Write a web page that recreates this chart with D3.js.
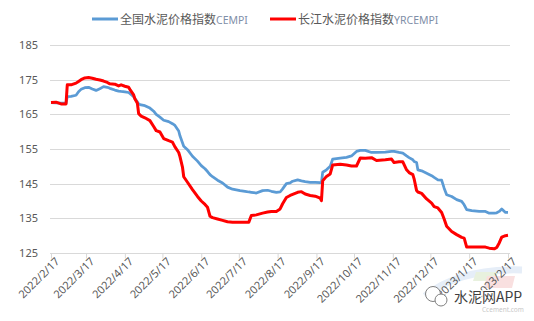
<!DOCTYPE html>
<html>
<head>
<meta charset="utf-8">
<script src="https://cdn.jsdelivr.net/npm/d3@7"></script>
<style>
  body { margin: 0; background: #fff; }
  svg { display: block; }
</style>
</head>
<body>
<div id="viz"></div>
<script>
const width = 534;
const height = 321;
const margin = {top: 45, right: 24, bottom: 68, left: 51};
const blue = '#5B9BD5';
const red = '#FF0000';

// dates of the readings
const dates = [
  '2022/2/17','2022/2/21','2022/2/25','2022/3/1','2022/3/2','2022/3/5','2022/3/9','2022/3/11','2022/3/13','2022/3/16',
  '2022/3/19','2022/3/22','2022/3/25','2022/3/28','2022/3/31','2022/4/3','2022/4/5','2022/4/9','2022/4/12','2022/4/14',
  '2022/4/17','2022/4/20','2022/4/21','2022/4/24','2022/4/25','2022/4/27','2022/4/28','2022/4/30','2022/5/3','2022/5/7',
  '2022/5/10','2022/5/12','2022/5/15','2022/5/18','2022/5/22','2022/5/25','2022/5/27','2022/5/30','2022/5/31','2022/6/2',
  '2022/6/3','2022/6/6','2022/6/10','2022/6/14','2022/6/17','2022/6/20','2022/6/22','2022/6/24','2022/6/26','2022/6/30',
  '2022/7/4','2022/7/8','2022/7/12','2022/7/18','2022/7/22','2022/7/25','2022/7/27','2022/7/31','2022/8/5','2022/8/9',
  '2022/8/12','2022/8/16','2022/8/19','2022/8/21','2022/8/24','2022/8/27','2022/8/29','2022/9/2','2022/9/5','2022/9/8',
  '2022/9/12','2022/9/16','2022/9/20','2022/9/21','2022/9/22','2022/9/25','2022/9/28','2022/9/30','2022/10/6','2022/10/11',
  '2022/10/15','2022/10/19','2022/10/22','2022/10/26','2022/10/31','2022/11/4','2022/11/11','2022/11/16','2022/11/18','2022/11/22',
  '2022/11/25','2022/11/28','2022/11/30','2022/12/3','2022/12/4','2022/12/6','2022/12/7','2022/12/10','2022/12/14','2022/12/18',
  '2022/12/20','2022/12/23','2022/12/26','2022/12/28','2022/12/30','2023/1/3','2023/1/7','2023/1/11','2023/1/13','2023/1/15',
  '2023/1/19','2023/1/25','2023/1/30','2023/2/2','2023/2/6','2023/2/8','2023/2/10','2023/2/12','2023/2/15','2023/2/17'
];

// 全国水泥价格指数CEMPI
const cempi = [
  168.4,168.3,168.2,168.2,170.1,170.2,170.5,171.5,172.2,172.7,
  172.8,172.3,171.9,172.4,173.0,172.8,172.5,172.0,171.7,171.6,
  171.5,171.3,171.0,170.1,169.5,168.6,168.0,167.7,167.5,166.8,
  165.9,165.0,164.2,163.3,162.9,162.3,161.8,160.2,158.8,156.8,
  155.8,154.8,152.9,151.5,150.2,149.3,148.5,147.6,147.0,146.0,
  145.2,144.0,143.4,143.0,142.8,142.6,142.5,142.3,143.0,143.1,
  142.8,142.5,142.6,143.5,145.0,145.2,145.7,146.1,145.8,145.6,
  145.4,145.4,145.3,145.3,148.3,149.0,150.0,152.1,152.4,152.6,
  153.0,154.3,154.6,154.6,154.0,154.0,154.1,154.3,154.3,154.0,
  153.8,153.0,152.5,151.9,151.4,151.1,149.0,148.7,148.0,147.3,
  146.8,146.1,146.0,143.7,141.8,141.3,140.4,139.9,138.9,137.5,
  137.2,137.0,137.0,136.5,136.5,136.6,137.0,137.7,136.7,136.7
];

// 长江水泥价格指数YRCEMPI
const yrcempi = [
  168.4,168.5,168.0,168.0,173.5,173.5,174.0,174.5,175.0,175.5,
  175.6,175.4,175.1,174.9,174.6,174.2,173.8,173.7,173.2,173.5,
  173.1,172.8,172.2,170.6,169.5,168.2,165.2,164.5,164.0,163.2,
  161.5,160.3,159.9,158.0,157.4,157.0,155.6,154.0,152.8,149.8,
  147.0,145.4,143.3,141.3,140.0,139.0,138.2,135.6,135.2,134.8,
  134.4,134.0,133.9,133.9,133.9,133.9,135.8,136.0,136.5,136.8,
  137.0,137.0,137.7,139.2,141.0,141.6,141.9,142.5,142.7,142.0,
  141.6,141.4,140.8,140.1,145.8,147.1,147.8,150.4,150.6,150.4,
  150.1,150.1,152.4,152.3,152.5,151.7,151.9,152.1,151.1,151.3,
  151.3,149.0,148.2,147.6,146.4,143.0,142.6,142.2,140.6,139.4,
  138.4,138.0,136.7,134.8,132.7,131.2,130.3,129.5,129.3,126.7,
  126.7,126.7,126.7,126.4,126.2,126.6,127.9,129.6,130.0,130.1
];

const yTicks = [125, 135, 145, 155, 165, 175, 185];
const xTicks = ['2022/2/17','2022/3/17','2022/4/17','2022/5/17','2022/6/17','2022/7/17','2022/8/17',
  '2022/9/17','2022/10/17','2022/11/17','2022/12/17','2023/1/17','2023/2/17'];
const seriesNames = ['全国水泥价格指数', '长江水泥价格指数'];
const seriesCodes = ['CEMPI', 'YRCEMPI'];

const parse = s => { const p = s.split('/').map(Number); return new Date(p[0], p[1] - 1, p[2]); };

const xScale = d3.scaleTime()
  .domain([parse(xTicks[0]), parse(xTicks[xTicks.length - 1])])
  .range([margin.left, width - margin.right - 2]);
const yScale = d3.scaleLinear()
  .domain([125, 185])
  .range([height - margin.bottom, margin.top]);

const svg = d3.select('#viz')
  .append('svg')
  .attr('width', width)
  .attr('height', height)
  .attr('viewBox', [0, 0, width, height]);

const latin = "'Noto Sans', 'DejaVu Sans', sans-serif";
const cjk = "'Noto Sans CJK SC', sans-serif";

// gridlines
svg.append('g')
  .selectAll('line')
  .data(yTicks)
  .join('line')
  .attr('x1', margin.left - 1)
  .attr('x2', width - margin.right)
  .attr('y1', d => Math.round(yScale(d)) + 0.5)
  .attr('y2', d => Math.round(yScale(d)) + 0.5)
  .attr('stroke', '#D9D9D9')
  .attr('stroke-width', 1);

// y labels
svg.append('g')
  .selectAll('text')
  .data(yTicks)
  .join('text')
  .attr('x', 38)
  .attr('y', d => yScale(d) + 4)
  .attr('text-anchor', 'end')
  .attr('font-family', latin)
  .attr('font-size', 11)
  .attr('fill', '#595959')
  .text(d => d);

// watermark background shapes
const wmBack = svg.append('g');
wmBack.append('path')
  .attr('d', 'M 425 296 Q 460 268 522 270')
  .attr('fill', 'none')
  .attr('stroke', '#E6EEF8')
  .attr('stroke-width', 7);
wmBack.append('polygon').attr('points', '476,272 498,272 495,281 473,281').attr('fill', '#E8F1DE');
wmBack.append('polygon').attr('points', '487,276 515,276 512,288 484,288').attr('fill', '#F9E0E0');

// x axis
const xAxis = svg.append('g')
  .attr('transform', `translate(0, ${Math.round(yScale(125)) + 0.5})`)
  .call(d3.axisBottom(xScale)
    .tickValues(xTicks.map(parse))
    .tickSize(5)
    .tickFormat((d, i) => xTicks[i]));
xAxis.select('.domain').attr('stroke', '#D9D9D9').attr('d', `M${margin.left - 1},0H${width - margin.right}`);
xAxis.selectAll('.tick line').attr('stroke', '#D9D9D9');
xAxis.selectAll('.tick text')
  .attr('font-family', latin)
  .attr('font-size', 11)
  .attr('fill', '#595959')
  .attr('text-anchor', 'end')
  .attr('dy', 0)
  .attr('transform', 'translate(3, 3) rotate(-45)');

// lines
const parsedDates = dates.map(parse);
const line = d3.line()
  .x((d, i) => xScale(parsedDates[i]))
  .y(d => yScale(d));

svg.append('path')
  .attr('d', line(cempi))
  .attr('fill', 'none')
  .attr('stroke', blue)
  .attr('stroke-width', 2.75)
  .attr('stroke-linejoin', 'round');

svg.append('path')
  .attr('d', line(yrcempi))
  .attr('fill', 'none')
  .attr('stroke', red)
  .attr('stroke-width', 3)
  .attr('stroke-linejoin', 'round');

// legend
const legend = svg.append('g');
const legendX = [92, 270];
const legendColors = [blue, red];
legendX.forEach((lx, i) => {
  legend.append('line')
    .attr('x1', lx).attr('x2', lx + 26)
    .attr('y1', 19).attr('y2', 19)
    .attr('stroke', legendColors[i])
    .attr('stroke-width', 3);
  const t = legend.append('text')
    .attr('x', lx + 28)
    .attr('y', 23.5)
    .attr('fill', '#595959');
  t.append('tspan').attr('font-family', cjk).attr('font-size', 12).text(seriesNames[i]);
  t.append('tspan').attr('font-family', latin).attr('font-size', 10.5).attr('fill', '#7F8FA8').text(seriesCodes[i]);
});

// watermark
const wm = svg.append('g');
wm.append('circle').attr('cx', 433).attr('cy', 294).attr('r', 7.5).attr('fill', '#fff').attr('stroke', '#7F7F7F').attr('stroke-width', 1);
wm.append('circle').attr('cx', 441).attr('cy', 300).attr('r', 6).attr('fill', '#fff').attr('stroke', '#7F7F7F').attr('stroke-width', 1);
wm.append('text')
  .attr('x', 454).attr('y', 302)
  .attr('font-family', cjk)
  .attr('font-size', 14)
  .attr('fill', '#3F3F3F')
  .attr('stroke', '#fff')
  .attr('stroke-width', 2)
  .attr('paint-order', 'stroke')
  .text('水泥网APP');
wm.append('text')
  .attr('x', 482).attr('y', 312)
  .attr('font-family', latin)
  .attr('font-size', 6.5)
  .attr('fill', '#C8C8C8')
  .text('Ccement.com');
</script>
</body>
</html>
